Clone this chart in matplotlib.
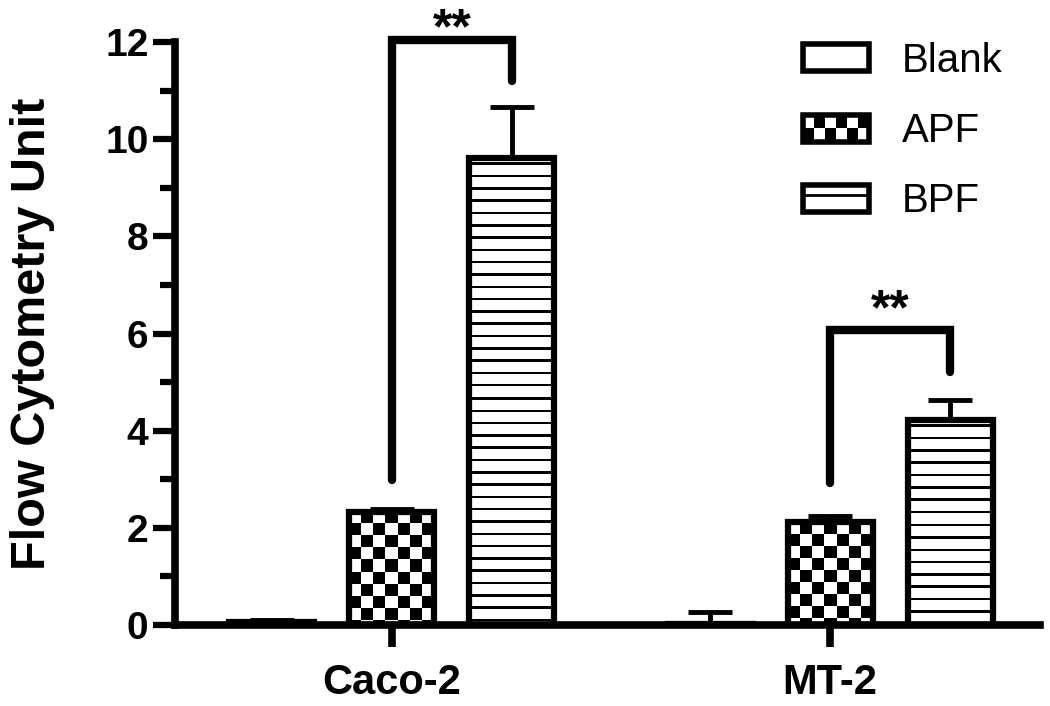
import matplotlib
matplotlib.use('Agg')
import matplotlib.pyplot as plt
import numpy as np
from matplotlib.patches import Rectangle
from matplotlib.lines import Line2D
from matplotlib.legend_handler import HandlerBase
from matplotlib.ticker import MultipleLocator

plt.rcParams['font.family'] = ['Liberation Sans', 'DejaVu Sans']

# data
cells = ['Caco-2', 'MT-2']
treatments = ['Blank', 'APF', 'BPF']
means = {'Blank': [0.06, 0.02], 'APF': [2.33, 2.12], 'BPF': [9.62, 4.22]}
sems = {'Blank': [0.05, 0.25], 'APF': [0.06, 0.12], 'BPF': [1.05, 0.42]}
fills = {'Blank': None, 'APF': 'checker', 'BPF': 'stripes'}
# significance brackets: (group, left start, top, right end)
brackets = [(0, 2.98, 12.05, 11.2), (1, 2.92, 6.07, 5.2)]
stars = ['**', '**']
star_y = [11.97, 6.19]

offsets = [-0.274, 0.0, 0.274]
width = 0.194
xlim = (-0.495, 1.479)
ylim = (0, 12)

fig = plt.figure(figsize=(10.5, 7.06), dpi=100)
ax = fig.add_axes([175/1050, 1-625/706, 865/1050, 583/706])
ax.set_xlim(xlim)
ax.set_ylim(ylim)

x = np.arange(len(cells))


def pattern_image(kind, h, w):
    r, c = np.indices((h, w))
    if kind == 'checker':
        return ((r // 12 + c // 12) % 2).astype(float)
    return (((r - 5) % 12.3) < 2.5).astype(float)


for i, t in enumerate(treatments):
    xs = x + offsets[i]
    face = ax.bar(xs, means[t], width, color='white', edgecolor='none', zorder=1)
    ax.errorbar(xs, means[t], yerr=[np.zeros(len(cells)), sems[t]], fmt='none',
                ecolor='black', elinewidth=3.5, capsize=16, capthick=3.5, zorder=2)
    if fills[t]:
        for p in face.patches:
            bb = p.get_window_extent()
            h_px = max(int(round(bb.height)), 1)
            w_px = max(int(round(bb.width)), 1)
            img = pattern_image(fills[t], h_px, w_px)
            im = ax.imshow(img, cmap='gray_r', vmin=0, vmax=1, interpolation='nearest',
                           extent=[p.get_x(), p.get_x() + p.get_width(), 0, p.get_height()],
                           aspect='auto', zorder=1.5)
            im.set_clip_path(p)
    ax.bar(xs, means[t], width, fill=False, edgecolor='black', linewidth=4.5, zorder=3)

ax.set_xlim(xlim)
ax.set_ylim(ylim)

for (g, y0, ytop, y1), s, sy in zip(brackets, stars, star_y):
    xa = x[g] + offsets[1]
    xb = x[g] + offsets[2]
    ax.plot([xa, xa, xb, xb], [y0, ytop, ytop, y1], color='black', lw=6,
            solid_capstyle='round', solid_joinstyle='miter', clip_on=False, zorder=4)
    ax.text((xa + xb) / 2, sy, s, ha='center', va='baseline',
            fontsize=36, fontweight='bold', clip_on=False)

for side in ['top', 'right']:
    ax.spines[side].set_visible(False)
for side in ['left', 'bottom']:
    ax.spines[side].set_linewidth(5.5)

ax.yaxis.set_major_locator(MultipleLocator(2))
ax.yaxis.set_minor_locator(MultipleLocator(1))
ax.tick_params(axis='y', which='major', direction='out', length=16, width=4.5,
               labelsize=28, pad=3)
ax.tick_params(axis='y', which='minor', direction='out', length=11, width=4.5)
ax.set_xticks(x + offsets[1])
ax.set_xticklabels(cells)
ax.tick_params(axis='x', direction='out', length=16, width=5.5, labelsize=30, pad=11)
for lab in ax.get_xticklabels() + ax.get_yticklabels():
    lab.set_fontweight('bold')
ax.set_ylabel('Flow Cytometry Unit', fontsize=35, fontweight='bold', labelpad=36)


class PatternHandler(HandlerBase):
    def __init__(self, kind):
        super().__init__()
        self.kind = kind

    def create_artists(self, legend, orig_handle, xdescent, ydescent, width, height,
                       fontsize, trans):
        x0, y0 = -xdescent, -ydescent
        arts = [Rectangle((x0, y0), width, height, facecolor='white', edgecolor='none',
                          transform=trans)]
        if self.kind == 'checker':
            nr, nc = 2, 6
            cw, ch = width / nc, height / nr
            for r in range(nr):
                for c in range(nc):
                    if (r + c) % 2 == 0:
                        arts.append(Rectangle((x0 + c * cw, y0 + r * ch), cw, ch,
                                              facecolor='black', edgecolor='none',
                                              transform=trans))
        elif self.kind == 'stripes':
            arts.append(Line2D([x0, x0 + width], [y0 + height * 0.62] * 2, color='black',
                               lw=2, transform=trans))
        arts.append(Rectangle((x0, y0), width, height, fill=False, edgecolor='black',
                              lw=4, transform=trans))
        return arts


handles = [Rectangle((0, 0), 1, 1) for _ in treatments]
hmap = {h: PatternHandler(fills[t]) for h, t in zip(handles, treatments)}
fig.legend(handles, treatments, handler_map=hmap, loc='upper left',
           bbox_to_anchor=(803/1050, 1 - 42/706), frameon=False, fontsize=29,
           handlelength=1.65, handleheight=0.66, handletextpad=0.8, labelspacing=0.8,
           borderpad=0, borderaxespad=0)

fig.savefig('out.png', dpi=100)
